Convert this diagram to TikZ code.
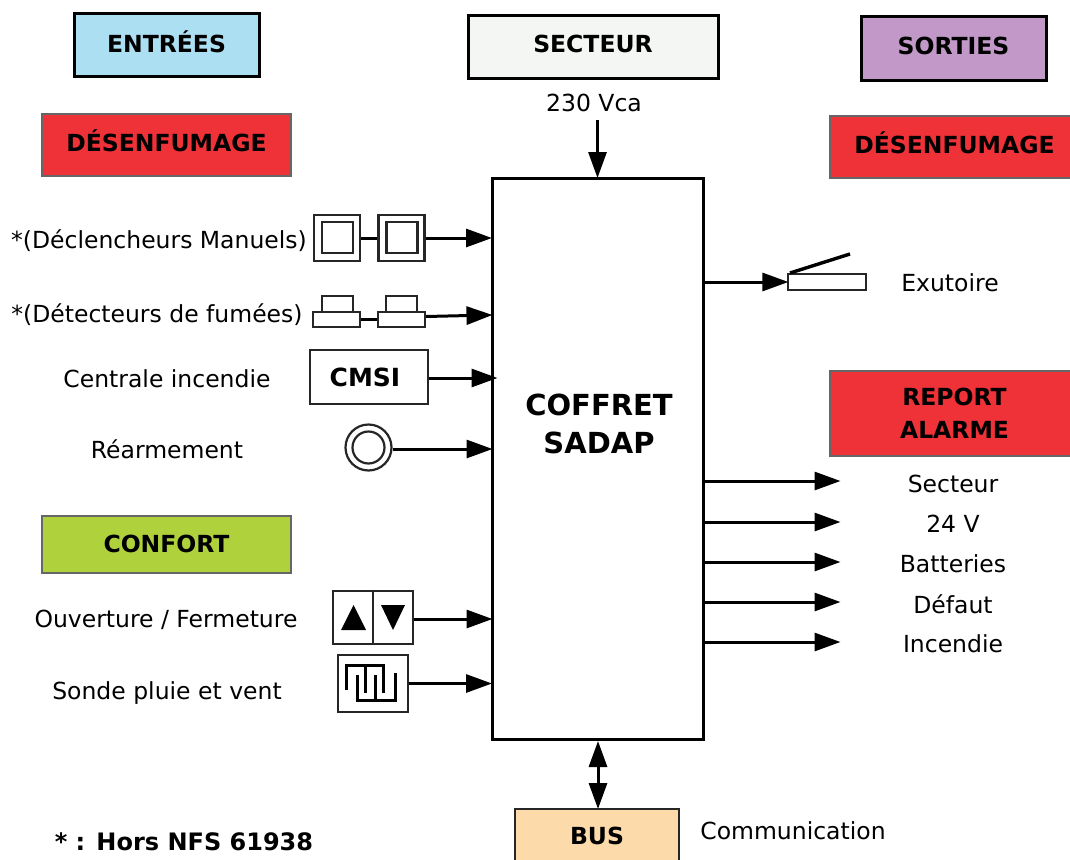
\documentclass[tikz,border=0pt]{standalone}
\usepackage{fontspec}
\setmainfont{DejaVu Sans}
\usetikzlibrary{arrows.meta}
\definecolor{entreeblue}{RGB}{173, 223, 242}
\definecolor{secteurgrey}{RGB}{243, 246, 243}
\definecolor{sortiemauve}{RGB}{193, 152, 200}
\definecolor{alarmred}{RGB}{238, 50, 56}
\definecolor{confortgreen}{RGB}{175, 210, 60}
\definecolor{busorange}{RGB}{253, 218, 170}
\begin{document}
\begin{tikzpicture}[
  x=1pt, y=-1pt,
  titlebox/.style={draw=black, line width=3pt, font=\fontsize{23.5}{27}\selectfont\bfseries, align=center, inner sep=0pt},
  colorbox/.style={titlebox, draw=black!60, line width=1.2pt},
  label/.style={font=\fontsize{23.5}{28}\selectfont, inner sep=0pt},
  icon/.style={draw=black!85, fill=white, line width=2.2pt, inner sep=0pt},
  sig/.style={line width=3pt, shorten >=-1.5pt, -{Triangle[length=26pt, width=18pt]}},
  link/.style={line width=3pt}
]
  \useasboundingbox (0, 0) rectangle (1070, 859);

  % headers
  \node[titlebox, text depth=6pt, fill=entreeblue, minimum width=185pt, minimum height=62pt] (entrees) at (166.5, 45) {ENTRÉES};
  \node[titlebox, text depth=6pt, fill=secteurgrey, minimum width=250pt, minimum height=62pt] (secteur) at (593, 47) {SECTEUR};
  \node[titlebox, text depth=5pt, fill=sortiemauve, minimum width=185pt, minimum height=63pt] (sorties) at (953.5, 48.5) {SORTIES};
  \node[colorbox, text depth=8pt, fill=alarmred, minimum width=249pt, minimum height=62pt] (desenfin) at (166.5, 145) {DÉSENFUMAGE};
  \node[colorbox, text depth=8pt, fill=alarmred, minimum width=249pt, minimum height=62pt] (desenfout) at (954.5, 147) {DÉSENFUMAGE};
  \node[colorbox, fill=alarmred, minimum width=249pt, minimum height=85pt] (report) at (954.5, 413.5) {REPORT\\[6pt]ALARME};
  \node[colorbox, text depth=2pt, fill=confortgreen, minimum width=249pt, minimum height=57pt] (confort) at (166.5, 544.5) {CONFORT};
  \node[icon, line width=1.8pt, fill=busorange, minimum width=164pt, minimum height=62pt] (bus) at (597, 840) {};
  \node[font=\fontsize{23.5}{27}\selectfont\bfseries] (bustxt) at (597, 836) {BUS};

  % central box
  \node[draw=black, line width=3pt, fill=white, minimum width=211pt, minimum height=561pt] (coffret) at (597.5, 458.5) {};
  \node[align=center, font=\fontsize{29}{38}\selectfont\bfseries] (coffrettxt) at (599, 424) {COFFRET\\SADAP};

  % left labels
  \node[label] (lman) at (159, 241) {*(Déclencheurs Manuels)};
  \node[label] (lfum) at (157, 315) {*(Détecteurs de fumées)};
  \node[label] (lcmsi) at (167, 379) {Centrale incendie};
  \node[label] (lrear) at (167, 449) {Réarmement};
  \node[label] (louv) at (166, 620) {Ouverture / Fermeture};
  \node[label] (lsonde) at (167, 693) {Sonde pluie et vent};
  \node[font=\fontsize{24}{28}\selectfont\bfseries, inner sep=0pt] (hors) at (184, 842) {* : Hors NFS 61938};

  % other labels
  \node[label] (vca) at (594, 103) {230 Vca};
  \node[label] (lexu) at (950, 283) {Exutoire};
  \node[label] (lsec) at (953, 484) {Secteur};
  \node[label] (l24) at (953, 524) {24 V};
  \node[label] (lbat) at (953, 564) {Batteries};
  \node[label] (ldef) at (953, 604) {Défaut};
  \node[label] (linc) at (953, 644) {Incendie};
  \node[label] (lcom) at (793, 831) {Communication};

  % manual triggers
  \node[icon, minimum width=46pt, minimum height=46pt] (man1) at (337, 238) {};
  \node[icon, line width=2.6pt, minimum width=31pt, minimum height=31pt] (man1i) at (337.5, 237.5) {};
  \node[icon, minimum width=46pt, minimum height=46pt] (man2) at (401.5, 238) {};
  \node[icon, line width=2.6pt, minimum width=31pt, minimum height=31pt] (man2i) at (402, 237.5) {};
  \draw[link] (man1) -- (man2);
  \draw[sig] (man2.east) -- (coffret.west |- man2.east);

  % smoke detectors
  \node[icon, minimum width=31pt, minimum height=16pt] (fum1t) at (337.5, 304) {};
  \node[icon, minimum width=47pt, minimum height=15pt] (fum1) at (336.5, 319.5) {};
  \node[icon, minimum width=31pt, minimum height=16pt] (fum2t) at (401.5, 304) {};
  \node[icon, minimum width=47pt, minimum height=15pt] (fum2) at (401.5, 319.5) {};
  \draw[link] (fum1) -- (fum2);
  \coordinate (fumin) at (491, 315);
  \draw[sig] (fum2.east) ++(0, -3) -- (fumin);

  % CMSI
  \node[icon, minimum width=118pt, minimum height=54pt, font=\fontsize{25}{30}\selectfont\bfseries] (cmsi) at (369, 377) {CMSI\kern8pt};
  \coordinate (cmsiin) at (496, 378);
  \draw[sig] (cmsi.east |- cmsiin) -- (cmsiin);

  % reset button
  \node[icon, circle, minimum size=46pt] (rear) at (368.5, 447.5) {};
  \node[icon, circle, minimum size=32pt] (reari) at (368.5, 447.5) {};
  \coordinate (rearin) at (491, 449);
  \draw[sig] (rear.east |- rearin) -- (rearin);

  % open / close
  \node[icon, minimum width=80pt, minimum height=53pt] (ouv) at (373, 617.5) {};
  \draw[line width=2.2pt, draw=black!85] (ouv.north) -- (ouv.south);
  \fill (341, 630) -- (366, 630) -- (353.5, 605) -- cycle;
  \fill (381, 605) -- (405, 605) -- (393, 630) -- cycle;
  \coordinate (ouvin) at (491, 619);
  \draw[sig] (ouv.east |- ouvin) -- (ouvin);

  % rain and wind probe
  \node[icon, minimum width=70pt, minimum height=57pt] (sonde) at (373, 683.5) {};
  \draw[line width=3pt] (346.7, 690) -- (346.7, 665) -- (383.3, 665) -- (383.3, 693);
  \draw[line width=3pt] (365, 665) -- (365, 693);
  \draw[line width=3pt] (357.7, 675) -- (357.7, 700.7) -- (395, 700.7) -- (395, 673);
  \draw[line width=3pt] (375, 675) -- (375, 700.7);
  \draw[sig] (sonde.east) -- (coffret.west |- sonde.east);

  % hatch
  \node[icon, minimum width=78pt, minimum height=16pt] (exu) at (827, 282) {};
  \draw[line width=3.4pt] (790, 273) -- (850, 254);
  \draw[sig] (coffret.east |- exu.west) -- (exu.west);

  % power and bus
  \coordinate (vcaout) at (597.5, 120);
  \draw[sig] (vcaout) -- (coffret.north);
  \coordinate (busup) at (598, 741);
  \coordinate (busdn) at (598, 809);
  \draw[line width=3pt, {Triangle[length=26pt, width=18pt]}-{Triangle[length=26pt, width=18pt]}] (busup) -- (busdn);

  % alarm reports
  \coordinate (rsec) at (839, 481);
  \coordinate (r24) at (839, 522);
  \coordinate (rbat) at (839, 562);
  \coordinate (rdef) at (839, 602);
  \coordinate (rinc) at (839, 642);
  \draw[sig] (coffret.east |- rsec) -- (rsec);
  \draw[sig] (coffret.east |- r24) -- (r24);
  \draw[sig] (coffret.east |- rbat) -- (rbat);
  \draw[sig] (coffret.east |- rdef) -- (rdef);
  \draw[sig] (coffret.east |- rinc) -- (rinc);
\end{tikzpicture}
\end{document}
